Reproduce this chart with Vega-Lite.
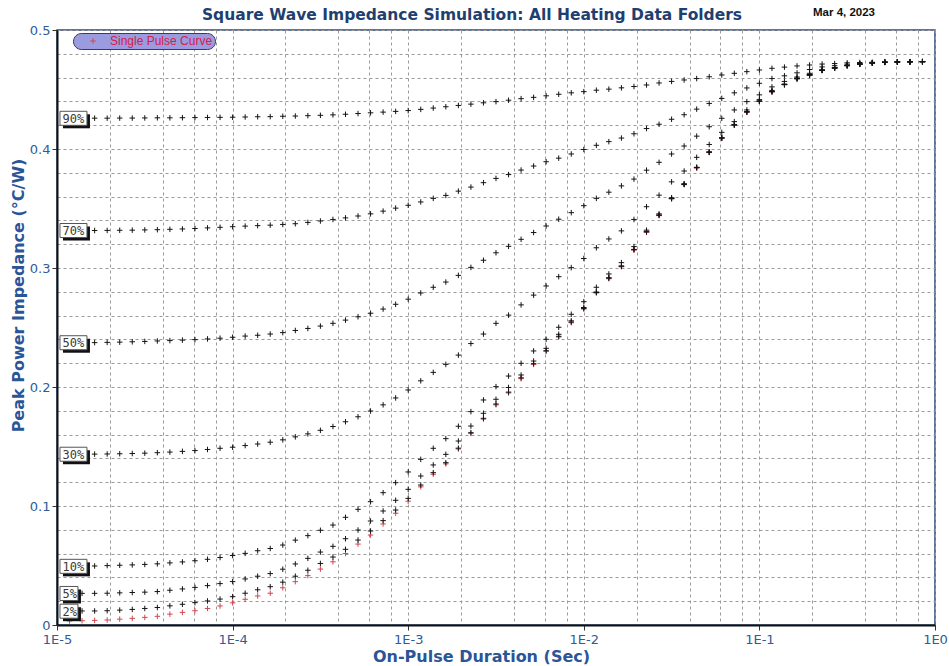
{
  "$schema": "https://vega.github.io/schema/vega-lite/v6.json",
  "width": 878,
  "height": 595,
  "autosize": {"type": "none"},
  "padding": {"left": 57, "top": 30, "right": 14, "bottom": 41},
  "background": "white",
  "title": {
    "text": "Square Wave Impedance Simulation: All Heating Data Folders",
    "anchor": "middle",
    "dx": -24,
    "dy": 17,
    "offset": 1,
    "font": "DejaVu Sans",
    "fontSize": 15.5,
    "fontWeight": "bold",
    "color": "#1f3f70"
  },
  "config": {
    "view": {"stroke": "#2c4a78", "strokeWidth": 1.5},
    "font": "DejaVu Sans"
  },
  "datasets": {
    "impedance": [
      {"t": 1.179e-5, "90%": 0.4258, "70%": 0.3315, "50%": 0.2372, "30%": 0.1435, "10%": 0.0493, "5%": 0.0265, "2%": 0.0116, "single": 0.0034},
      {"t": 1.389e-5, "90%": 0.4258, "70%": 0.3315, "50%": 0.2372, "30%": 0.1435, "10%": 0.0494, "5%": 0.0266, "2%": 0.0118, "single": 0.0036},
      {"t": 1.638e-5, "90%": 0.4259, "70%": 0.3315, "50%": 0.2373, "30%": 0.1436, "10%": 0.0496, "5%": 0.0266, "2%": 0.0118, "single": 0.0039},
      {"t": 1.931e-5, "90%": 0.4259, "70%": 0.3316, "50%": 0.2375, "30%": 0.1437, "10%": 0.0499, "5%": 0.0267, "2%": 0.0120, "single": 0.0042},
      {"t": 2.276e-5, "90%": 0.4260, "70%": 0.3317, "50%": 0.2377, "30%": 0.1439, "10%": 0.0502, "5%": 0.0270, "2%": 0.0125, "single": 0.0049},
      {"t": 2.683e-5, "90%": 0.4260, "70%": 0.3318, "50%": 0.2380, "30%": 0.1441, "10%": 0.0505, "5%": 0.0273, "2%": 0.0131, "single": 0.0056},
      {"t": 3.162e-5, "90%": 0.4261, "70%": 0.3320, "50%": 0.2383, "30%": 0.1444, "10%": 0.0509, "5%": 0.0276, "2%": 0.0139, "single": 0.0064},
      {"t": 3.728e-5, "90%": 0.4262, "70%": 0.3322, "50%": 0.2387, "30%": 0.1448, "10%": 0.0514, "5%": 0.0281, "2%": 0.0147, "single": 0.0073},
      {"t": 4.394e-5, "90%": 0.4262, "70%": 0.3325, "50%": 0.2390, "30%": 0.1453, "10%": 0.0522, "5%": 0.0292, "2%": 0.0161, "single": 0.0091},
      {"t": 5.179e-5, "90%": 0.4263, "70%": 0.3328, "50%": 0.2394, "30%": 0.1459, "10%": 0.0530, "5%": 0.0303, "2%": 0.0174, "single": 0.0106},
      {"t": 6.105e-5, "90%": 0.4264, "70%": 0.3332, "50%": 0.2398, "30%": 0.1466, "10%": 0.0540, "5%": 0.0316, "2%": 0.0188, "single": 0.0120},
      {"t": 7.197e-5, "90%": 0.4265, "70%": 0.3337, "50%": 0.2404, "30%": 0.1475, "10%": 0.0552, "5%": 0.0331, "2%": 0.0202, "single": 0.0139},
      {"t": 8.483e-5, "90%": 0.4266, "70%": 0.3342, "50%": 0.2410, "30%": 0.1485, "10%": 0.0567, "5%": 0.0348, "2%": 0.0218, "single": 0.0160},
      {"t": 1.0e-4, "90%": 0.4267, "70%": 0.3347, "50%": 0.2418, "30%": 0.1494, "10%": 0.0584, "5%": 0.0365, "2%": 0.0238, "single": 0.0186},
      {"t": 1.179e-4, "90%": 0.4269, "70%": 0.3352, "50%": 0.2428, "30%": 0.1508, "10%": 0.0602, "5%": 0.0387, "2%": 0.0267, "single": 0.0216},
      {"t": 1.389e-4, "90%": 0.4271, "70%": 0.3356, "50%": 0.2435, "30%": 0.1521, "10%": 0.0624, "5%": 0.0410, "2%": 0.0296, "single": 0.0244},
      {"t": 1.638e-4, "90%": 0.4272, "70%": 0.3360, "50%": 0.2445, "30%": 0.1536, "10%": 0.0643, "5%": 0.0432, "2%": 0.0322, "single": 0.0267},
      {"t": 1.931e-4, "90%": 0.4275, "70%": 0.3366, "50%": 0.2457, "30%": 0.1556, "10%": 0.0672, "5%": 0.0469, "2%": 0.0360, "single": 0.0313},
      {"t": 2.276e-4, "90%": 0.4277, "70%": 0.3372, "50%": 0.2475, "30%": 0.1581, "10%": 0.0713, "5%": 0.0513, "2%": 0.0410, "single": 0.0364},
      {"t": 2.683e-4, "90%": 0.4280, "70%": 0.3383, "50%": 0.2492, "30%": 0.1606, "10%": 0.0751, "5%": 0.0560, "2%": 0.0460, "single": 0.0415},
      {"t": 3.162e-4, "90%": 0.4283, "70%": 0.3395, "50%": 0.2512, "30%": 0.1636, "10%": 0.0796, "5%": 0.0613, "2%": 0.0517, "single": 0.0470},
      {"t": 3.728e-4, "90%": 0.4287, "70%": 0.3408, "50%": 0.2535, "30%": 0.1668, "10%": 0.0840, "5%": 0.0661, "2%": 0.0571, "single": 0.0531},
      {"t": 4.394e-4, "90%": 0.4292, "70%": 0.3421, "50%": 0.2562, "30%": 0.1708, "10%": 0.0905, "5%": 0.0725, "2%": 0.0636, "single": 0.0601},
      {"t": 5.179e-4, "90%": 0.4298, "70%": 0.3437, "50%": 0.2590, "30%": 0.1750, "10%": 0.0972, "5%": 0.0798, "2%": 0.0714, "single": 0.0680},
      {"t": 6.105e-4, "90%": 0.4304, "70%": 0.3455, "50%": 0.2620, "30%": 0.1798, "10%": 0.1036, "5%": 0.0874, "2%": 0.0790, "single": 0.0756},
      {"t": 7.197e-4, "90%": 0.4310, "70%": 0.3478, "50%": 0.2655, "30%": 0.1850, "10%": 0.1112, "5%": 0.0958, "2%": 0.0877, "single": 0.0849},
      {"t": 8.483e-4, "90%": 0.4316, "70%": 0.3503, "50%": 0.2695, "30%": 0.1908, "10%": 0.1196, "5%": 0.1048, "2%": 0.0966, "single": 0.0939},
      {"t": 1.0e-3, "90%": 0.4323, "70%": 0.3527, "50%": 0.2738, "30%": 0.1975, "10%": 0.1286, "5%": 0.1140, "2%": 0.1064, "single": 0.1040},
      {"t": 1.179e-3, "90%": 0.4333, "70%": 0.3555, "50%": 0.2790, "30%": 0.2052, "10%": 0.1392, "5%": 0.1252, "2%": 0.1176, "single": 0.1161},
      {"t": 1.389e-3, "90%": 0.4344, "70%": 0.3585, "50%": 0.2838, "30%": 0.2123, "10%": 0.1485, "5%": 0.1345, "2%": 0.1280, "single": 0.1267},
      {"t": 1.638e-3, "90%": 0.4355, "70%": 0.3610, "50%": 0.2882, "30%": 0.2190, "10%": 0.1566, "5%": 0.1434, "2%": 0.1364, "single": 0.1354},
      {"t": 1.931e-3, "90%": 0.4366, "70%": 0.3646, "50%": 0.2938, "30%": 0.2268, "10%": 0.1670, "5%": 0.1546, "2%": 0.1486, "single": 0.1479},
      {"t": 2.276e-3, "90%": 0.4377, "70%": 0.3680, "50%": 0.3005, "30%": 0.2365, "10%": 0.1793, "5%": 0.1672, "2%": 0.1616, "single": 0.1610},
      {"t": 2.683e-3, "90%": 0.4388, "70%": 0.3717, "50%": 0.3065, "30%": 0.2445, "10%": 0.1891, "5%": 0.1779, "2%": 0.1737, "single": 0.1730},
      {"t": 3.162e-3, "90%": 0.4398, "70%": 0.3753, "50%": 0.3128, "30%": 0.2535, "10%": 0.2003, "5%": 0.1897, "2%": 0.1857, "single": 0.1850},
      {"t": 3.728e-3, "90%": 0.4410, "70%": 0.3785, "50%": 0.3182, "30%": 0.2604, "10%": 0.2092, "5%": 0.1996, "2%": 0.1957, "single": 0.1950},
      {"t": 4.394e-3, "90%": 0.4423, "70%": 0.3823, "50%": 0.3241, "30%": 0.2690, "10%": 0.2199, "5%": 0.2101, "2%": 0.2077, "single": 0.2070},
      {"t": 5.179e-3, "90%": 0.4434, "70%": 0.3857, "50%": 0.3298, "30%": 0.2772, "10%": 0.2303, "5%": 0.2218, "2%": 0.2196, "single": 0.2190},
      {"t": 6.105e-3, "90%": 0.4447, "70%": 0.3893, "50%": 0.3353, "30%": 0.2849, "10%": 0.2401, "5%": 0.2325, "2%": 0.2305, "single": 0.2300},
      {"t": 7.197e-3, "90%": 0.4460, "70%": 0.3923, "50%": 0.3410, "30%": 0.2927, "10%": 0.2502, "5%": 0.2443, "2%": 0.2426, "single": 0.2420},
      {"t": 8.483e-3, "90%": 0.4472, "70%": 0.3958, "50%": 0.3465, "30%": 0.3003, "10%": 0.2611, "5%": 0.2556, "2%": 0.2546, "single": 0.2540},
      {"t": 1.0e-2, "90%": 0.4482, "70%": 0.3996, "50%": 0.3524, "30%": 0.3080, "10%": 0.2717, "5%": 0.2668, "2%": 0.2660, "single": 0.2655},
      {"t": 1.179e-2, "90%": 0.4494, "70%": 0.4031, "50%": 0.3585, "30%": 0.3170, "10%": 0.2838, "5%": 0.2798, "2%": 0.2795, "single": 0.2790},
      {"t": 1.389e-2, "90%": 0.4503, "70%": 0.4062, "50%": 0.3637, "30%": 0.3244, "10%": 0.2950, "5%": 0.2918, "2%": 0.2915, "single": 0.2910},
      {"t": 1.638e-2, "90%": 0.4514, "70%": 0.4092, "50%": 0.3690, "30%": 0.3312, "10%": 0.3045, "5%": 0.3017, "2%": 0.3015, "single": 0.3010},
      {"t": 1.931e-2, "90%": 0.4525, "70%": 0.4128, "50%": 0.3747, "30%": 0.3408, "10%": 0.3180, "5%": 0.3156, "2%": 0.3155, "single": 0.3150},
      {"t": 2.276e-2, "90%": 0.4538, "70%": 0.4172, "50%": 0.3822, "30%": 0.3515, "10%": 0.3318, "5%": 0.3305, "2%": 0.3304, "single": 0.3300},
      {"t": 2.683e-2, "90%": 0.4555, "70%": 0.4208, "50%": 0.3888, "30%": 0.3612, "10%": 0.3455, "5%": 0.3445, "2%": 0.3444, "single": 0.3440},
      {"t": 3.162e-2, "90%": 0.4568, "70%": 0.4250, "50%": 0.3958, "30%": 0.3724, "10%": 0.3590, "5%": 0.3585, "2%": 0.3584, "single": 0.3580},
      {"t": 3.728e-2, "90%": 0.4580, "70%": 0.4288, "50%": 0.4025, "30%": 0.3815, "10%": 0.3707, "5%": 0.3704, "2%": 0.3704, "single": 0.3700},
      {"t": 4.394e-2, "90%": 0.4592, "70%": 0.4335, "50%": 0.4108, "30%": 0.3930, "10%": 0.3846, "5%": 0.3844, "2%": 0.3844, "single": 0.3840},
      {"t": 5.179e-2, "90%": 0.4607, "70%": 0.4383, "50%": 0.4187, "30%": 0.4038, "10%": 0.3975, "5%": 0.3974, "2%": 0.3974, "single": 0.3970},
      {"t": 6.105e-2, "90%": 0.4622, "70%": 0.4425, "50%": 0.4258, "30%": 0.4140, "10%": 0.4094, "5%": 0.4093, "2%": 0.4093, "single": 0.4090},
      {"t": 7.197e-2, "90%": 0.4636, "70%": 0.4472, "50%": 0.4328, "30%": 0.4230, "10%": 0.4204, "5%": 0.4203, "2%": 0.4203, "single": 0.4200},
      {"t": 8.483e-2, "90%": 0.4650, "70%": 0.4513, "50%": 0.4398, "30%": 0.4328, "10%": 0.4313, "5%": 0.4312, "2%": 0.4312, "single": 0.4310},
      {"t": 0.1, "90%": 0.4664, "70%": 0.4552, "50%": 0.4455, "30%": 0.4415, "10%": 0.4403, "5%": 0.4402, "2%": 0.4402, "single": 0.4400},
      {"t": 0.1179, "90%": 0.4678, "70%": 0.4592, "50%": 0.4522, "30%": 0.4492, "10%": 0.4483, "5%": 0.4482, "2%": 0.4482, "single": 0.4480},
      {"t": 0.1389, "90%": 0.4688, "70%": 0.4615, "50%": 0.4568, "30%": 0.4546, "10%": 0.4542, "5%": 0.4542, "2%": 0.4541, "single": 0.4540},
      {"t": 0.1638, "90%": 0.4698, "70%": 0.4640, "50%": 0.4605, "30%": 0.4596, "10%": 0.4592, "5%": 0.4591, "2%": 0.4591, "single": 0.4590},
      {"t": 0.1931, "90%": 0.4706, "70%": 0.4668, "50%": 0.4636, "30%": 0.4626, "10%": 0.4622, "5%": 0.4621, "2%": 0.4621, "single": 0.4620},
      {"t": 0.2276, "90%": 0.4714, "70%": 0.4690, "50%": 0.4665, "30%": 0.4663, "10%": 0.4661, "5%": 0.4661, "2%": 0.4661, "single": 0.4660},
      {"t": 0.2683, "90%": 0.4718, "70%": 0.4700, "50%": 0.4684, "30%": 0.4682, "10%": 0.4681, "5%": 0.4681, "2%": 0.4681, "single": 0.4680},
      {"t": 0.3162, "90%": 0.4724, "70%": 0.4712, "50%": 0.4702, "30%": 0.4701, "10%": 0.4701, "5%": 0.4701, "2%": 0.4701, "single": 0.4700},
      {"t": 0.3728, "90%": 0.4727, "70%": 0.4718, "50%": 0.4713, "30%": 0.4713, "10%": 0.4713, "5%": 0.4713, "2%": 0.4713, "single": 0.4712},
      {"t": 0.4394, "90%": 0.4729, "70%": 0.4724, "50%": 0.4722, "30%": 0.4723, "10%": 0.4723, "5%": 0.4723, "2%": 0.4723, "single": 0.4722},
      {"t": 0.5179, "90%": 0.4731, "70%": 0.4728, "50%": 0.4728, "30%": 0.4729, "10%": 0.4729, "5%": 0.4729, "2%": 0.4729, "single": 0.4728},
      {"t": 0.6105, "90%": 0.4732, "70%": 0.4731, "50%": 0.4731, "30%": 0.4732, "10%": 0.4732, "5%": 0.4732, "2%": 0.4732, "single": 0.4731},
      {"t": 0.7197, "90%": 0.4733, "70%": 0.4733, "50%": 0.4733, "30%": 0.4733, "10%": 0.4733, "5%": 0.4733, "2%": 0.4733, "single": 0.4733},
      {"t": 0.8483, "90%": 0.4733, "70%": 0.4734, "50%": 0.4734, "30%": 0.4734, "10%": 0.4734, "5%": 0.4734, "2%": 0.4734, "single": 0.4734}
    ],
    "stamp": [{"when": "Mar 4, 2023"}]
  },
  "layer": [
    {
      "data": {"name": "impedance"},
      "encoding": {
        "x": {
          "field": "t",
          "type": "quantitative",
          "scale": {"type": "log", "domain": [0.00001, 1], "nice": false},
          "axis": {
            "title": "On-Pulse Duration (Sec)",
            "values": [0.00001, 0.00002, 0.00004, 0.00006, 0.00008, 0.0001, 0.0002, 0.0004, 0.0006, 0.0008, 0.001, 0.002, 0.004, 0.006, 0.008, 0.01, 0.02, 0.04, 0.06, 0.08, 0.1, 0.2, 0.4, 0.6, 0.8, 1],
            "labelExpr": "abs(log(datum.value) / LN10 - round(log(datum.value) / LN10)) < 0.01 ? '1E' + round(log(datum.value) / LN10) : ''",
            "tickOpacity": {"condition": {"test": "abs(log(datum.value) / LN10 - round(log(datum.value) / LN10)) < 0.01", "value": 1}, "value": 0},
            "labelOverlap": false,
            "labelFlush": false,
            "labelBound": false,
            "grid": true,
            "gridColor": "#9a9a9a",
            "gridDash": [3, 3],
            "gridWidth": 1,
            "domainColor": "#111111",
            "domainWidth": 2,
            "tickColor": "#333333",
            "tickSize": 5,
            "labelFont": "DejaVu Sans",
            "labelFontSize": 13,
            "labelColor": "#2e5c9a",
            "labelPadding": 3,
            "titleFont": "DejaVu Sans",
            "titleFontSize": 16,
            "titleFontWeight": "bold",
            "titleColor": "#2a5597",
            "titlePadding": 2,
            "titleX": 424
          }
        },
        "y": {
          "field": "z",
          "type": "quantitative",
          "scale": {"domain": [0, 0.5], "nice": false},
          "axis": {
            "title": "Peak Power Impedance (°C/W)",
            "values": [0, 0.02, 0.04, 0.06, 0.08, 0.1, 0.12, 0.14, 0.16, 0.18, 0.2, 0.22, 0.24, 0.26, 0.28, 0.3, 0.32, 0.34, 0.36, 0.38, 0.4, 0.42, 0.44, 0.46, 0.48, 0.5],
            "labelExpr": "abs(datum.value * 10 - round(datum.value * 10)) < 0.001 ? format(datum.value, '.1~f') : ''",
            "tickOpacity": {"condition": {"test": "abs(datum.value * 10 - round(datum.value * 10)) < 0.001", "value": 1}, "value": 0},
            "labelOverlap": false,
            "labelFlush": false,
            "labelBound": false,
            "grid": true,
            "gridColor": "#9a9a9a",
            "gridDash": [3, 3],
            "gridWidth": 1,
            "domainColor": "#111111",
            "domainWidth": 2,
            "tickColor": "#333333",
            "tickSize": 5,
            "labelFont": "DejaVu Sans",
            "labelFontSize": 13,
            "labelColor": "#2e5c9a",
            "labelPadding": 2,
            "titleFont": "DejaVu Sans",
            "titleFontSize": 16,
            "titleFontWeight": "bold",
            "titleColor": "#2a5597",
            "titlePadding": 3,
            "titleY": 265
          }
        }
      },
      "layer": [
        {
          "transform": [{"fold": ["single"], "as": ["series", "z"]}],
          "mark": {"type": "point", "shape": "M-1,0H1M0,-1V1", "filled": false, "size": 30, "strokeWidth": 1, "opacity": 1},
          "encoding": {
            "color": {
              "datum": "Single Pulse Curve",
              "scale": {"range": ["#d2464f"]},
              "legend": {
                "title": null,
                "orient": "none",
                "legendX": 16,
                "legendY": 3,
                "fillColor": "#9b9be0",
                "strokeColor": "#3a3a5a",
                "cornerRadius": 8,
                "padding": 2,
                "symbolType": "M-1,0H1M0,-1V1",
                "symbolSize": 30,
                "symbolStrokeWidth": 1,
                "symbolOffset": 12,
                "labelOffset": 11,
                "labelFont": "Liberation Sans",
                "labelFontSize": 12,
                "labelColor": "#d4204a"
              }
            }
          }
        },
        {
          "transform": [{"fold": ["90%", "70%", "50%", "30%", "10%", "5%", "2%"], "as": ["series", "z"]}],
          "mark": {"type": "point", "shape": "M-1,0H1M0,-1V1", "filled": false, "size": 30, "strokeWidth": 1, "color": "#141414", "opacity": 1}
        },
        {
          "transform": [
            {"fold": ["90%", "70%", "50%", "30%", "10%"], "as": ["series", "z"]},
            {"filter": {"field": "t", "lt": 1.2e-5}}
          ],
          "mark": {"type": "point", "shape": "M-0.44,-0.267H1.36V0.667H-0.44Z", "filled": true, "size": 900, "color": "#111111", "strokeWidth": 0, "opacity": 1}
        },
        {
          "transform": [
            {"fold": ["5%", "2%"], "as": ["series", "z"]},
            {"filter": {"field": "t", "lt": 1.2e-5}}
          ],
          "mark": {"type": "point", "shape": "M-0.44,-0.267H0.76V0.667H-0.44Z", "filled": true, "size": 900, "color": "#111111", "strokeWidth": 0, "opacity": 1}
        },
        {
          "transform": [
            {"fold": ["90%", "70%", "50%", "30%", "10%"], "as": ["series", "z"]},
            {"filter": {"field": "t", "lt": 1.2e-5}}
          ],
          "mark": {"type": "point", "shape": "M-0.64,-0.467H1.16V0.467H-0.64Z", "filled": true, "size": 900, "fill": "#ffffff", "stroke": "#555555", "strokeWidth": 1, "opacity": 1, "fillOpacity": 1}
        },
        {
          "transform": [
            {"fold": ["5%", "2%"], "as": ["series", "z"]},
            {"filter": {"field": "t", "lt": 1.2e-5}}
          ],
          "mark": {"type": "point", "shape": "M-0.64,-0.467H0.56V0.467H-0.64Z", "filled": true, "size": 900, "fill": "#ffffff", "stroke": "#555555", "strokeWidth": 1, "opacity": 1, "fillOpacity": 1}
        },
        {
          "transform": [
            {"fold": ["90%", "70%", "50%", "30%", "10%", "5%", "2%"], "as": ["series", "z"]},
            {"filter": {"field": "t", "lt": 1.2e-5}}
          ],
          "mark": {"type": "text", "align": "left", "baseline": "middle", "dx": -7, "dy": 0.5, "font": "DejaVu Sans Mono", "fontSize": 12, "color": "#3a3a3a"},
          "encoding": {"text": {"field": "series"}}
        }
      ]
    },
    {
      "data": {"name": "stamp"},
      "mark": {"type": "text", "align": "right", "baseline": "middle", "dx": -60, "dy": -17, "font": "Liberation Sans", "fontSize": 11.5, "fontWeight": "bold", "color": "#111111"},
      "encoding": {
        "x": {"value": "width"},
        "y": {"value": 0},
        "text": {"field": "when", "type": "nominal"}
      }
    }
  ]
}
